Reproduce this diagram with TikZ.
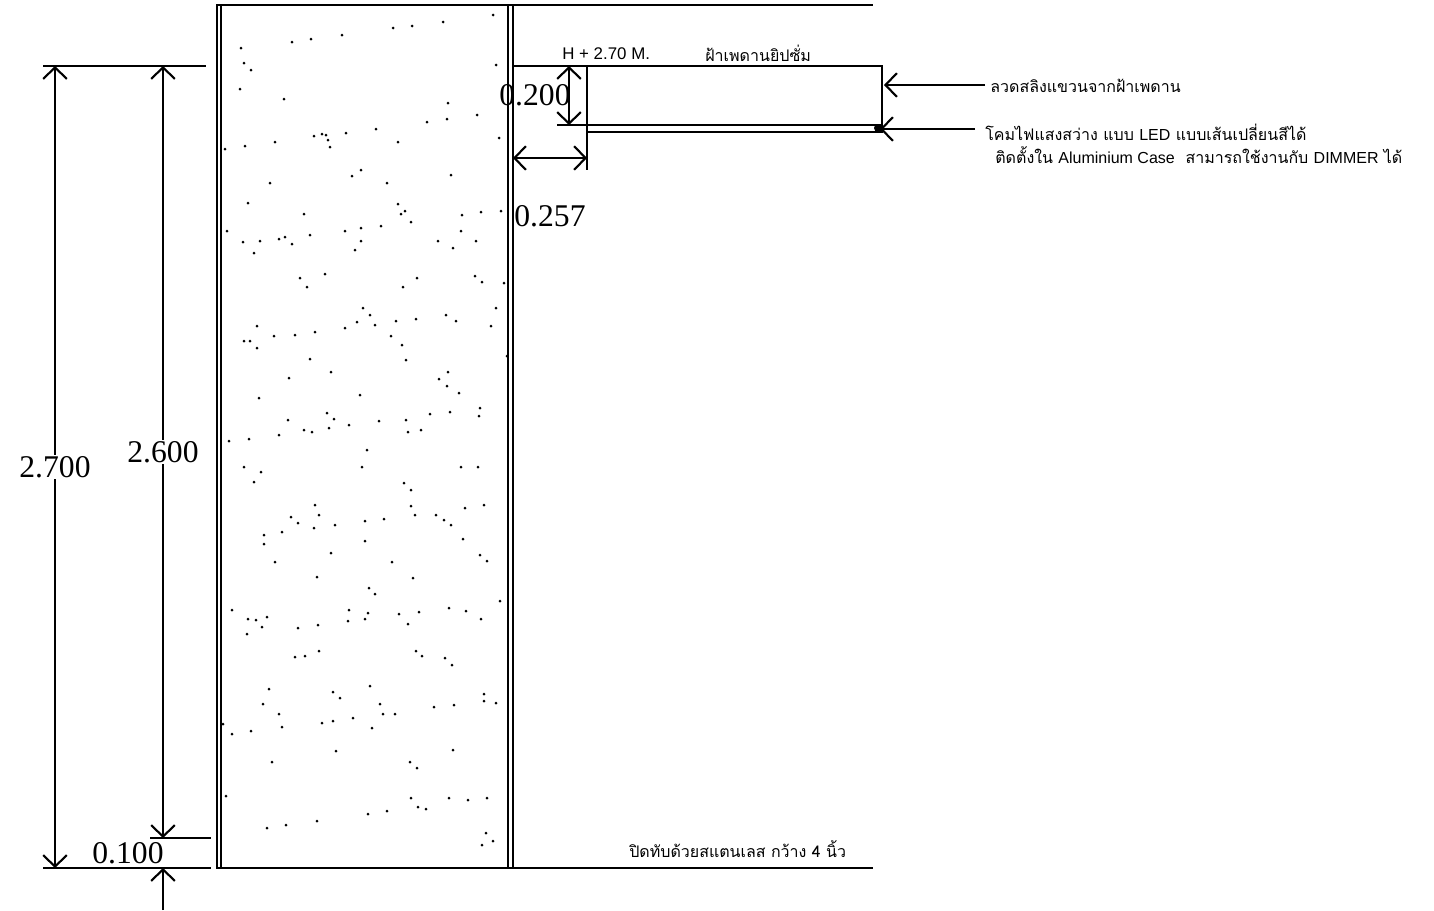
\documentclass[tikz,border=0pt]{standalone}
\usepackage{fontspec}
\usetikzlibrary{arrows.meta}
\setmainfont{Liberation Serif}
\newfontfamily\thaifont[Script=Thai]{Loma}
\newfontfamily\latinfont{Liberation Sans}
\tikzset{
  dimtext/.style={font=\fontsize{18}{22}\selectfont,inner sep=0pt},
  notetext/.style={font=\fontsize{9.1}{13}\thaifont,inner sep=0pt,anchor=west},
  wall/.style={line width=1.6pt},
  ceilline/.style={line width=1.6pt},
  line/.style={line width=1.4pt},
  dim/.style={line width=1.2pt,<->},
  lead/.style={line width=1.2pt,->}
}
\begin{document}
\begin{tikzpicture}[x=0.02cm,y=-0.02cm,>={Straight Barb[length=6.5pt,width=13.5pt,line width=1.2pt]}]
\useasboundingbox (0,0) rectangle (1434,910);
\coordinate (ceilL) at (513,66);
\coordinate (ceilR) at (882,66);
\coordinate (boxL) at (587,66);
\coordinate (boxB) at (587,170);
\coordinate (coveL) at (557,125);
\coordinate (coveR) at (882,125);
\coordinate (caseL) at (587,132);
\coordinate (caseR) at (882,132);
\coordinate (tickT) at (43,66);
\coordinate (tickTe) at (206,66);
\coordinate (tickM) at (150,838);
\coordinate (tickMe) at (211,838);
\coordinate (tickB) at (43,868);
\coordinate (tickBe) at (211,868);
\coordinate (wallTL) at (217,5);
\coordinate (wallBR) at (513,868);
\coordinate (topR) at (873,5);
\coordinate (botR) at (873,868);
% wall with its cover
\draw[wall] (wallTL) rectangle (wallBR);
\draw[line] (221,5) -- (221,868);
\draw[line] (508,5) -- (508,868);
\draw[line] (wallTL) -- (topR);
\draw[line] (wallBR) -- (botR);
% ticks on the left
\draw[line] (tickT) -- (tickTe);
\draw[line] (tickM) -- (tickMe);
\draw[line] (tickB) -- (tickBe);
% ceiling and cove
\draw[ceilline] (ceilL) -- (ceilR) -- (caseR) -- (caseL);
\draw[line] (boxL) -- (boxB);
\draw[line] (coveL) -- (coveR);
\fill (878,128) circle (4);
% dimensions
\coordinate (d27a) at (55,66);
\coordinate (d27b) at (55,868);
\coordinate (d26a) at (163,66);
\coordinate (d26b) at (163,838);
\coordinate (d01a) at (163,910);
\coordinate (d01b) at (163,868);
\coordinate (d02a) at (569,66);
\coordinate (d02b) at (569,125);
\coordinate (d25a) at (513,158);
\coordinate (d25b) at (587,158);
\draw[dim] (d27a) -- (d27b);
\draw[dim] (d26a) -- (d26b);
\draw[lead] (d01a) -- (d01b);
\draw[dim] (d02a) -- (d02b);
\draw[dim] (d25a) -- (d25b);
\node[dimtext] (t27) at (55,467) [fill=white,inner sep=0.5pt] {2.700};
\node[dimtext] (t26) at (163,452) [fill=white,inner sep=0.5pt] {2.600};
\node[dimtext] (t01) at (128,853) {0.100};
\node[dimtext] (t02) at (535,95) {0.200};
\node[dimtext] (t25) at (550,216) {0.257};
% notes
\node[font=\fontsize{9.6}{12}\latinfont,inner sep=0pt,anchor=west] (level) at (562,54) {H + 2.70 M.};
\node[notetext] (ceil) at (705,53) {ฝ้าเพดานยิปซั่ม};
\node[notetext] (wire) at (990,86) {ลวดสลิงแขวนจากฝ้าเพดาน};
\node[notetext] (lamp) at (985,132) {โคมไฟแสงสว่าง แบบ {\latinfont LED} แบบเส้นเปลี่ยนสีได้};
\node[notetext] (case) at (995,155) {ติดตั้งใน {\latinfont Aluminium Case}\ \ สามารถใช้งานกับ {\latinfont DIMMER} ได้};
\node[notetext] (cover) at (629,849) {ปิดทับด้วยสแตนเลส กว้าง 4 นิ้ว};
\draw[lead] (wire.west) ++(-5,-1) coordinate (wireE) -- (884,85);
\draw[lead] (lamp.west) ++(-10,-3) coordinate (lampE) -- (880,129);
% concrete dots
\foreach \dotx/\doty in {493/15,393/28,412/26,443/22,342/35,311/39,292/42,241/48,244/63,251/70,496/65,240/89,284/99,448/103,447/119,427/122,477/115,376/129,346/133,322/134,326/135,314/136,328/140,330/147,499/138,398/142,275/142,245/146,225/149,361/170,352/176,451/175,387/183,270/183,248/203,398/204,405/211,401/214,411/222,304/214,462/215,481/212,501/211,381/226,361/228,461/231,345/231,227/231,310/235,285/237,279/239,243/242,260/241,292/244,361/241,438/241,476/241,453/248,355/250,254/253,325/274,300/278,307/287,417/278,403/287,475/276,482/282,504/283,
363/308,370/315,496/308,446/315,456/321,416/319,396/321,357/322,375/325,345/328,491/326,257/326,274/336,295/335,315/332,391/336,244/341,250/341,257/348,402/345,310/359,406/360,507/356,331/372,448/372,289/378,439/379,447/386,459/393,360/395,259/398,480/408,327/413,450/412,430/414,479/416,334/419,288/420,406/420,379/421,349/425,329/428,304/430,312/432,421/430,408/432,279/435,249/439,229/441,367/450,244/467,362/467,461/467,478/467,261/472,254/482,404/483,411/490,315/505,411/506,484/505,465/508,291/517,319/515,415/515,436/515,444/520,451/525,298/523,335/525,365/521,384/519,314/528,264/535,282/532,264/544,365/541,463/539,331/553,480/555,487/561,275/562,392/562,317/577,413/578,
369/588,375/594,500/601,232/610,349/610,449/608,466/611,419/612,368/613,399/614,267/617,248/619,256/620,348/621,365/619,481/619,408/624,318/625,262/627,298/628,247/634,319/651,416/651,422/656,305/656,295/657,445/658,452/665,370/686,269/689,333/692,484/694,340/698,484/701,263/704,380/704,496/703,454/705,434/707,279/714,383/714,395/714,353/718,333/721,322/723,223/724,282/727,372/728,251/731,232/734,336/751,453/750,272/762,410/762,417/768,226/796,411/798,449/798,468/800,487/798,418/807,426/809,368/814,387/811,317/821,286/825,267/828,486/833,493/841,482/845}
  \fill (\dotx,\doty) circle (1.5);
\end{tikzpicture}
\end{document}
